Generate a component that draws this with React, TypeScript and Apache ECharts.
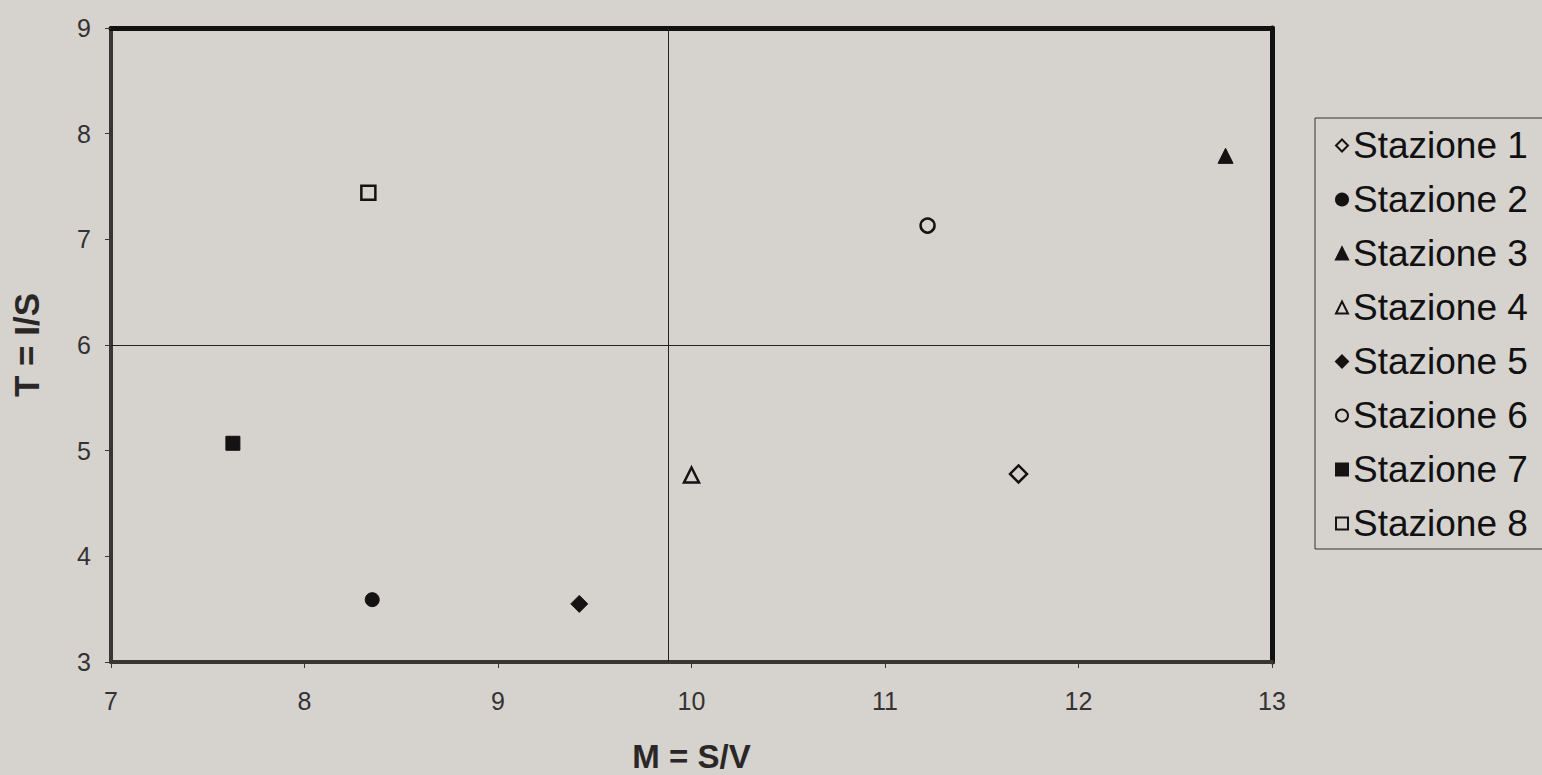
import React, { useEffect, useRef } from "react";
import * as echarts from "echarts";

const stations = ["Stazione 1", "Stazione 2", "Stazione 3", "Stazione 4", "Stazione 5", "Stazione 6", "Stazione 7", "Stazione 8"];
const mValues = [11.69, 8.35, 12.76, 10.0, 9.42, 11.22, 7.63, 8.33];
const tValues = [4.78, 3.59, 7.79, 4.77, 3.55, 7.13, 5.07, 7.44];
const symbols = ["diamond", "circle", "triangle", "triangle", "diamond", "circle", "rect", "rect"];
const filled = [false, true, true, false, true, false, true, false];
const refM = 9.88;
const refT = 6;

const BG = "#d6d2ce";
const INK = "#141212";

export default function App() {
  const ref = useRef<HTMLDivElement>(null);
  useEffect(() => {
    if (!ref.current) return;
    const chart = echarts.init(ref.current, null, { renderer: "svg" });
    const series: any[] = stations.map((name, i) => ({
      name,
      type: "scatter",
      data: [[mValues[i], tValues[i]]],
      symbol: symbols[i],
      symbolSize: symbols[i] === "diamond" ? 17 : symbols[i] === "triangle" ? 15 : 14,
      itemStyle: filled[i]
        ? { color: INK, borderColor: INK, borderWidth: 1, opacity: 1 }
        : { color: BG, borderColor: INK, borderWidth: 2.5, opacity: 1 },
      xAxisIndex: 0,
      yAxisIndex: 0,
    }));
    series.push({
      type: "scatter",
      data: [],
      silent: true,
      markLine: {
        silent: true,
        symbol: "none",
        label: { show: false },
        lineStyle: { color: "#222", width: 1, type: "solid" },
        data: [{ xAxis: refM }, { yAxis: refT }],
      },
    });
    chart.setOption({
      animation: false,
      backgroundColor: BG,
      textStyle: { fontFamily: "Liberation Sans, Arial, sans-serif" },
      grid: {
        left: 111,
        right: 1542 - 1272,
        top: 28,
        bottom: 775 - 662,
        containLabel: false,
        outerBoundsMode: "none",
      },
      legend: {
        data: stations,
        orient: "vertical",
        left: 1315,
        top: 118,
        padding: [9, 40, 7, 20],
        itemGap: 17,
        itemWidth: 12,
        itemHeight: 12,
        borderColor: "#333",
        borderWidth: 1,
        textStyle: {
          fontSize: 37,
          lineHeight: 36,
          color: "#111",
          fontFamily: "Liberation Sans, Arial, sans-serif",
        },
      },
      xAxis: [
        {
          type: "value",
          min: 7,
          max: 13,
          interval: 1,
          name: "M = S/V",
          nameLocation: "middle",
          nameGap: 78,
          nameTextStyle: { fontSize: 33, fontWeight: "bold", color: "#2a2727" },
          axisLine: { show: true, onZero: false, lineStyle: { color: "#3a3535", width: 4 } },
          axisTick: { show: true, length: 6, lineStyle: { color: "#3a3535", width: 1 } },
          axisLabel: { fontSize: 25, color: "#333", margin: 26 },
          splitLine: { show: false },
        },
        {
          type: "value",
          position: "top",
          min: 7,
          max: 13,
          axisLine: { show: true, onZero: false, lineStyle: { color: "#111", width: 5 } },
          axisTick: { show: false },
          axisLabel: { show: false },
          splitLine: { show: false },
        },
      ],
      yAxis: [
        {
          type: "value",
          min: 3,
          max: 9,
          interval: 1,
          name: "T = I/S",
          nameLocation: "middle",
          nameGap: 67,
          nameTextStyle: { fontSize: 35, fontWeight: "bold", color: "#2a2727" },
          axisLine: { show: true, onZero: false, lineStyle: { color: "#3a3535", width: 4 } },
          axisTick: { show: true, length: 6, lineStyle: { color: "#3a3535", width: 1 } },
          axisLabel: { fontSize: 25, color: "#333", margin: 20 },
          splitLine: { show: false },
        },
        {
          type: "value",
          position: "right",
          min: 3,
          max: 9,
          axisLine: { show: true, onZero: false, lineStyle: { color: "#111", width: 5 } },
          axisTick: { show: false },
          axisLabel: { show: false },
          splitLine: { show: false },
        },
      ],
      series,
    });
    return () => chart.dispose();
  }, []);
  return (
    <div
      ref={ref}
      style={{ position: "fixed", left: 0, top: 0, width: 1542, height: 775 }}
    />
  );
}
